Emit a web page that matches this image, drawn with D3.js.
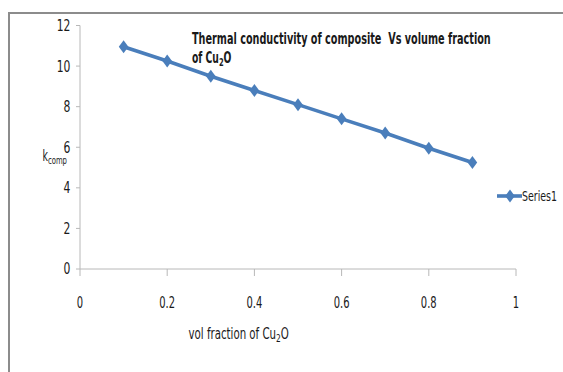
<!DOCTYPE html>
<html>
<head>
<meta charset="utf-8">
<script src="https://cdn.jsdelivr.net/npm/d3@7"></script>
<style>
html,body{margin:0;padding:0;background:#fff;}
svg{display:block;}
text{font-family:"DejaVu Sans Condensed","DejaVu Sans",sans-serif;fill:#1a1a1a;}
</style>
</head>
<body>
<svg id="chart" width="563" height="372"></svg>
<script>
const xValues = [0.1, 0.2, 0.3, 0.4, 0.5, 0.6, 0.7, 0.8, 0.9];
const kValues = [10.95, 10.25, 9.5, 8.8, 8.1, 7.4, 6.7, 5.95, 5.25];
const xTicks = [0, 0.2, 0.4, 0.6, 0.8, 1];
const yTicks = [0, 2, 4, 6, 8, 10, 12];
const seriesName = "Series1";

const svg = d3.select("#chart");
const color = "#4a7ebb";
const axisColor = "#b8b8b8";

// horizontal squeeze helpers (narrow font look)
function squeezeBy(sel, s) {
  sel.each(function() {
    const x0 = +this.getAttribute("x");
    this.setAttribute("transform", `translate(${x0},0) scale(${s},1) translate(${-x0},0)`);
  });
}
function fitWidth(sel, w) {
  sel.each(function() {
    const bw = this.getBBox().width;
    const x0 = +this.getAttribute("x");
    const s = w / bw;
    this.setAttribute("transform", `translate(${x0},0) scale(${s},1) translate(${-x0},0)`);
  });
}

// outer frame (top and left visible)
svg.append("path").attr("d","M9,372 V13 H563").attr("fill","none")
  .attr("stroke","#8c8c8c").attr("stroke-width",2);

const x = d3.scaleLinear().domain([0,1]).range([80,516]);
const y = d3.scaleLinear().domain([0,12]).range([269,25.5]);

// y axis
svg.append("line").attr("x1",x(0)).attr("x2",x(0)).attr("y1",y(0)).attr("y2",y(12))
  .attr("stroke",axisColor).attr("stroke-width",1);
svg.selectAll(".yt").data(yTicks).enter().append("line")
  .attr("x1",x(0)-4).attr("x2",x(0)).attr("y1",d=>y(d)).attr("y2",d=>y(d))
  .attr("stroke",axisColor);
const yl = svg.selectAll(".yl").data(yTicks).enter().append("text")
  .attr("x",70.5).attr("y",d=>y(d)+5.5).attr("text-anchor","end")
  .attr("font-size",15).text(d=>d);
squeezeBy(yl, 0.8);

// x axis
svg.append("line").attr("x1",x(0)).attr("x2",x(1)).attr("y1",y(0)).attr("y2",y(0))
  .attr("stroke",axisColor);
svg.selectAll(".xt").data(xTicks).enter().append("line")
  .attr("x1",d=>x(d)).attr("x2",d=>x(d)).attr("y1",y(0)).attr("y2",y(0)+7)
  .attr("stroke",axisColor);
const xl = svg.selectAll(".xl").data(xTicks).enter().append("text")
  .attr("x",d=>x(d)).attr("y",308).attr("text-anchor","middle")
  .attr("font-size",15).text(d=>d);
squeezeBy(xl, 0.74);

// axis titles
const yt = svg.append("text").attr("x",42.5).attr("y",161).attr("font-size",15);
yt.append("tspan").text("k");
yt.append("tspan").attr("font-size",11).attr("dy",3).text("comp");
fitWidth(yt, 24.5);

const xt = svg.append("text").attr("x",188.5).attr("y",339).attr("font-size",15);
xt.append("tspan").text("vol fraction of Cu");
xt.append("tspan").attr("font-size",11).attr("dy",3).text("2");
xt.append("tspan").attr("dy",-3).text("O");
fitWidth(xt, 100.5);

// chart title
const t1 = svg.append("text").attr("x",192).attr("y",44.3).attr("font-size",15).attr("font-weight","bold")
  .style("white-space","pre").attr("xml:space","preserve")
  .text("Thermal conductivity of composite  Vs volume fraction");
fitWidth(t1, 299);
const t2 = svg.append("text").attr("x",192).attr("y",63.5).attr("font-size",15).attr("font-weight","bold");
t2.append("tspan").text("of Cu");
t2.append("tspan").attr("font-size",11).attr("dy",3).text("2");
t2.append("tspan").attr("dy",-3).text("O");
fitWidth(t2, 39.5);

// custom diamond marker (taller than wide)
const diamondPath = "M0,-6.5L4.8,0L0,6.5L-4.8,0Z";

// series line
const line = d3.line().x((d,i)=>x(xValues[i])).y(d=>y(d));
svg.append("path").datum(kValues).attr("d",line).attr("fill","none")
  .attr("stroke",color).attr("stroke-width",3.6).attr("stroke-linejoin","round");

svg.selectAll(".pt").data(kValues).enter().append("path")
  .attr("d",diamondPath).attr("transform",(d,i)=>`translate(${x(xValues[i])},${y(d)})`)
  .attr("fill",color);

// legend
svg.append("line").attr("x1",497).attr("x2",522).attr("y1",196).attr("y2",196)
  .attr("stroke",color).attr("stroke-width",3.6);
svg.append("path").attr("d",diamondPath).attr("transform","translate(510,196)").attr("fill",color);
const lt = svg.append("text").attr("x",522).attr("y",201.5).attr("font-size",14).text(seriesName);
fitWidth(lt, 35);
</script>
</body>
</html>
